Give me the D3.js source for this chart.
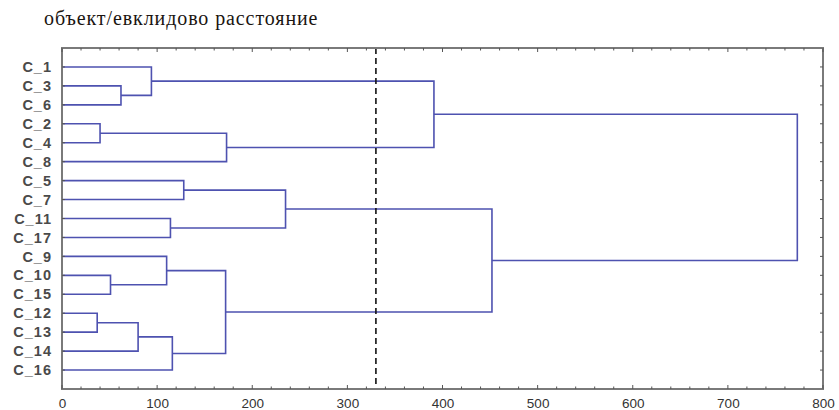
<!DOCTYPE html>
<html>
<head>
<meta charset="utf-8">
<script src="https://cdn.jsdelivr.net/npm/d3@7"></script>
<style>
  html, body { margin: 0; padding: 0; background: #fff; }
  svg { display: block; }
</style>
</head>
<body>
<svg id="chart" width="839" height="410"></svg>
<script>
// Leaf order along the vertical axis (top to bottom)
const leaves = ["C_1", "C_3", "C_6", "C_2", "C_4", "C_8", "C_5", "C_7", "C_11",
                "C_17", "C_9", "C_10", "C_15", "C_12", "C_13", "C_14", "C_16"];

// Agglomeration steps: [name, first member, second member, linkage distance]
const merges = [
  ["m1", "C_3", "C_6", 62],
  ["m2", "C_1", "m1", 94],
  ["m3", "C_2", "C_4", 40],
  ["m4", "m3", "C_8", 173],
  ["m5", "m2", "m4", 391],
  ["m6", "C_5", "C_7", 128],
  ["m7", "C_11", "C_17", 114],
  ["m8", "m6", "m7", 235],
  ["m9", "C_10", "C_15", 51],
  ["m10", "C_9", "m9", 110],
  ["m11", "C_12", "C_13", 37],
  ["m12", "m11", "C_14", 80],
  ["m13", "m12", "C_16", 116],
  ["m14", "m10", "m13", 172],
  ["m15", "m8", "m14", 452],
  ["m16", "m5", "m15", 773]
];

// Cut-off distance shown as a dashed line
const cutDistance = 330;

// Axis ticks
const majorTicks = [0, 100, 200, 300, 400, 500, 600, 700, 800];
const minorTicks = d3.range(0, 801, 20);

const titleText = "объект/евклидово расстояние";

const svg = d3.select("#chart");
const margin = { left: 62, right: 16, top: 48, bottom: 21 };
const W = 839, H = 410;
const x0 = margin.left, x1 = W - margin.right;
const y0 = margin.top, y1 = H - margin.bottom;

const x = d3.scaleLinear().domain([0, 800]).range([x0, x1]);
const y = d3.scalePoint().domain(leaves).range([y0, y1]).padding(1);

const lineColor = "#4e52b0";
const frameColor = "#7a7a7a";

// Title
svg.append("text")
  .attr("x", 44).attr("y", 25)
  .attr("font-family", "'Liberation Serif', 'Times New Roman', serif")
  .attr("font-size", 20)
  .attr("letter-spacing", 0.9)
  .attr("fill", "#1a1410")
  .text(titleText);

// Node positions: leaves at distance 0, merges at mean of member positions
const pos = {};
leaves.forEach(l => { pos[l] = { d: 0, y: y(l) }; });
merges.forEach(([name, a, b, d]) => {
  pos[name] = { d: d, y: (pos[a].y + pos[b].y) / 2 };
});

// Dendrogram links
const g = svg.append("g");
merges.forEach(([name, a, b, d]) => {
  const pa = pos[a], pb = pos[b], xm = x(d);
  const path = d3.path();
  path.moveTo(x(pa.d), pa.y);
  path.lineTo(xm, pa.y);
  path.lineTo(xm, pb.y);
  path.lineTo(x(pb.d), pb.y);
  g.append("path")
    .attr("d", path.toString())
    .attr("fill", "none")
    .attr("stroke", lineColor)
    .attr("stroke-width", 1.6);
});

// Cut line
svg.append("line")
  .attr("x1", x(cutDistance)).attr("x2", x(cutDistance))
  .attr("y1", y0).attr("y2", y1)
  .attr("stroke", "#111")
  .attr("stroke-width", 1.6)
  .attr("stroke-dasharray", "6,4");

// Frame
svg.append("rect")
  .attr("x", x0).attr("y", y0)
  .attr("width", x1 - x0).attr("height", y1 - y0)
  .attr("fill", "none")
  .attr("stroke", frameColor)
  .attr("stroke-width", 2);

// Bottom and top inward ticks
const ticksG = svg.append("g").attr("stroke", "#555").attr("stroke-width", 1);
minorTicks.forEach(t => {
  const len = majorTicks.includes(t) ? 4 : 2.5;
  ticksG.append("line").attr("x1", x(t)).attr("x2", x(t)).attr("y1", y1).attr("y2", y1 - len);
  ticksG.append("line").attr("x1", x(t)).attr("x2", x(t)).attr("y1", y0).attr("y2", y0 + len);
});
// Left and right inward ticks at leaves
leaves.forEach(l => {
  ticksG.append("line").attr("x1", x1).attr("x2", x1 - 3).attr("y1", y(l)).attr("y2", y(l));
  ticksG.append("line").attr("x1", x0).attr("x2", x0 + 3).attr("y1", y(l)).attr("y2", y(l));
});

// X tick labels
const xAxis = d3.axisBottom(x).tickValues(majorTicks).tickSize(0).tickPadding(9);
const xg = svg.append("g").attr("transform", `translate(0,${y1})`).call(xAxis);
xg.select(".domain").remove();
xg.selectAll("text")
  .attr("font-family", "'Liberation Sans', Arial, sans-serif")
  .attr("font-size", 13.5)
  .attr("fill", "#333");

// Y tick labels (leaf names)
const yAxis = d3.axisLeft(y).tickSize(0).tickPadding(10);
const yg = svg.append("g").attr("transform", `translate(${x0},0)`).call(yAxis);
yg.select(".domain").remove();
yg.selectAll("text")
  .attr("font-family", "'Liberation Sans', Arial, sans-serif")
  .attr("font-size", 14.5)
  .attr("font-weight", "bold")
  .attr("letter-spacing", 1)
  .attr("fill", "#4a4a4a");
</script>
</body>
</html>
